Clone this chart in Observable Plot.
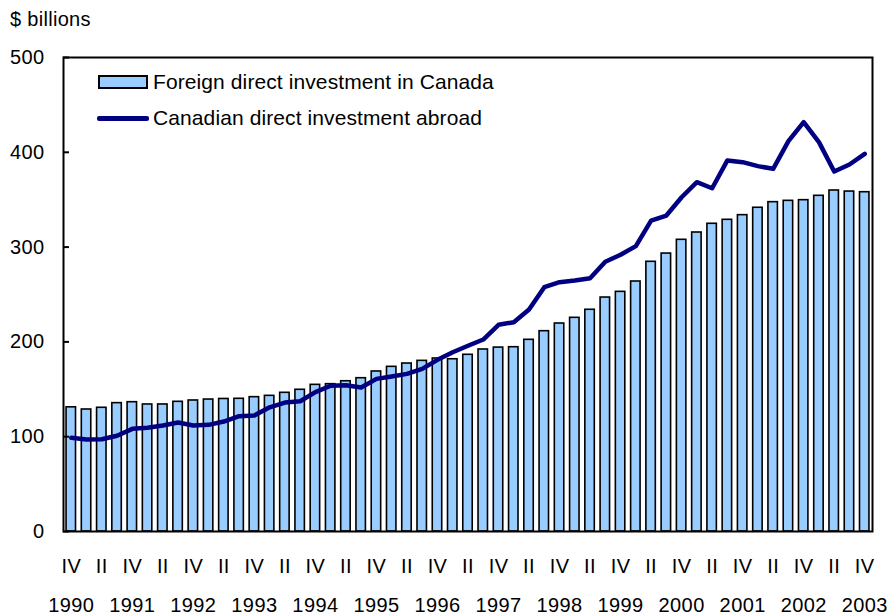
<!DOCTYPE html>
<html>
<head>
<meta charset="utf-8">
<script src="https://cdn.jsdelivr.net/npm/d3@7"></script>
<script src="https://cdn.jsdelivr.net/npm/@observablehq/plot@0.6"></script>
<style>
  body { margin: 0; background: #fff; font-family: "Liberation Sans", Arial, sans-serif; color: #000; }
  #wrap { position: relative; width: 888px; height: 616px; }
  .unit { position: absolute; left: 10px; top: 7px; font-size: 20px; line-height: 24px; letter-spacing: 0.3px; }
  .leg { position: absolute; font-size: 21px; line-height: 24px; white-space: nowrap; letter-spacing: 0.1px; }
  .sw-bar { position: absolute; left: 98px; top: 75px; width: 46px; height: 10px; background: #99ccff; border: 2px solid #000; }
  .sw-line { position: absolute; left: 97px; top: 116px; width: 52px; height: 5px; background: #000080; border-radius: 2px; }
</style>
</head>
<body>
<div id="wrap"></div>
<script>
// ---- data (quarterly, 1990 Q4 .. 2003 Q4), $ billions ----
const startYear = 1990;
const startQuarter = 4;
const seriesNames = ["Foreign direct investment in Canada", "Canadian direct investment abroad"];
const unitLabel = "$ billions";
const quarterLabels = ["I", "II", "III", "IV"];
const yTicks = [0, 100, 200, 300, 400, 500];

const fdi = [131, 128.7, 130.5, 135.4, 136.4, 134, 134, 136.8, 138.2, 139.2,
  139.8, 140, 141.7, 143.1, 146.3, 149.5, 154.7, 155.4, 158.5, 161.7,
  168.8, 173.7, 177.2, 180, 182.5, 181.7, 186.4, 192, 194, 194.4,
  202.2, 211.3, 219.4, 225.4, 233.9, 246.8, 252.8, 263.7, 284.5, 293.2,
  307.7, 315.4, 324.6, 328.8, 333.7, 341.5, 347.4, 348.8, 349.5, 354.1,
  359.7, 358.6, 357.9];

const cdia = [98.8, 97, 97.3, 101, 108.3, 109.4, 111.8, 115, 111.8, 112.5,
  116, 121.6, 122.4, 131, 136, 137.4, 147, 153.7, 154.3, 151.9,
  161, 163.5, 166.3, 171.6, 181.1, 189.1, 195.9, 202.5, 218, 220.8,
  234.2, 257.7, 263, 264.8, 267.2, 284.5, 291.9, 301, 328, 333.3,
  352.6, 368.5, 362.1, 391.4, 389.6, 385.4, 382.6, 411.7, 431.8, 410.7,
  379.7, 387.1, 398.4];

// ---- derived tables ----
const periods = fdi.map((_, i) => {
  const n = startQuarter - 1 + i;
  return { year: startYear + Math.floor(n / 4), q: (n % 4) + 1 };
});
const keyOf = p => `${p.year}-Q${p.q}`;
const keys = periods.map(keyOf);
const info = new Map(periods.map(p => [keyOf(p), p]));
const barData = keys.map((k, i) => ({ key: k, value: fdi[i] }));
const lineData = keys.map((k, i) => ({ key: k, value: cdia[i] }));
const quarterTicks = keys.filter(k => info.get(k).q === 2 || info.get(k).q === 4);
const yearTicks = keys.filter(k => info.get(k).q === 4);

const chart = Plot.plot({
  width: 888,
  height: 616,
  marginLeft: 63,
  marginRight: 16,
  marginTop: 57,
  marginBottom: 85,
  style: { fontFamily: "'Liberation Sans', Arial, sans-serif", fontSize: "20px", color: "#000", background: "#fff", letterSpacing: "0.4px" },
  x: { type: "band", domain: keys, paddingInner: 0.38, paddingOuter: 0.2, round: false },
  y: { domain: [0, 500] },
  marks: [
    Plot.barY(barData, { x: "key", y: "value", fill: "#99ccff", stroke: "#000", strokeWidth: 1.6 }),
    Plot.line(lineData, { x: "key", y: "value", stroke: "#000080", strokeWidth: 4.5, strokeLinejoin: "round", strokeLinecap: "round" }),
    Plot.frame({ stroke: "#000", strokeWidth: 2 }),
    Plot.axisY({ ticks: yTicks, tickSize: 0, tickPadding: 19, fontSize: 20, label: null }),
    Plot.axisY({ ticks: yTicks, tickSize: -6, text: null, strokeWidth: 2, label: null }),
    Plot.axisX({ ticks: quarterTicks, tickFormat: k => quarterLabels[info.get(k).q - 1], tickSize: 0, tickPadding: 27, fontSize: 20, label: null }),
    Plot.axisX({ ticks: yearTicks, tickFormat: k => String(info.get(k).year), tickSize: 0, tickPadding: 66, fontSize: 20, label: null })
  ]
});

const wrap = document.getElementById("wrap");
wrap.appendChild(chart);

const unit = document.createElement("div");
unit.className = "unit";
unit.textContent = unitLabel;
wrap.appendChild(unit);

const sw1 = document.createElement("div"); sw1.className = "sw-bar"; wrap.appendChild(sw1);
const t1 = document.createElement("div"); t1.className = "leg"; t1.style.left = "153px"; t1.style.top = "70px"; t1.textContent = seriesNames[0]; wrap.appendChild(t1);
const sw2 = document.createElement("div"); sw2.className = "sw-line"; wrap.appendChild(sw2);
const t2 = document.createElement("div"); t2.className = "leg"; t2.style.left = "153px"; t2.style.top = "106px"; t2.textContent = seriesNames[1]; wrap.appendChild(t2);
</script>
</body>
</html>
